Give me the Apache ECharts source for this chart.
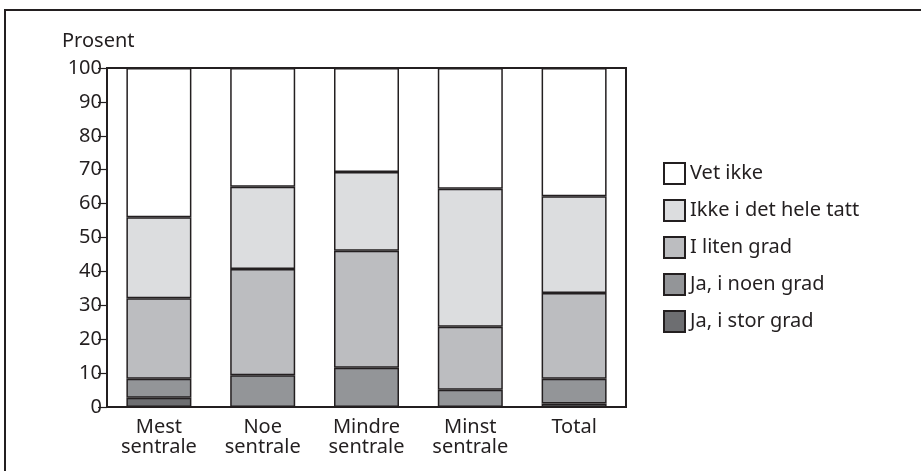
<!DOCTYPE html>
<html>
<head>
<meta charset="utf-8">
<script src="https://cdn.jsdelivr.net/npm/echarts@6/dist/echarts.min.js"></script>
<style>html,body{margin:0;padding:0;background:#fff}#c{width:921px;height:471px}</style>
</head>
<body>
<div id="c"></div>
<script>
const categories = ['Mest\nsentrale', 'Noe\nsentrale', 'Mindre\nsentrale', 'Minst\nsentrale', 'Total'];
const jaStorGrad = [2.7, 0, 0, 0, 1.0];
const jaNoenGrad = [5.6, 9.4, 11.6, 5.1, 7.3];
const iLitenGrad = [23.8, 31.3, 34.5, 18.6, 25.3];
const ikkeIDetHeleTatt = [23.9, 24.3, 23.2, 40.7, 28.6];
const vetIkke = [44.0, 35.0, 30.7, 35.6, 37.8];
const yTicks = [0, 10, 20, 30, 40, 50, 60, 70, 80, 90, 100];

const dark = '#231f20';
const font = 'Noto Sans';
const seriesDefs = [
  {name: 'Ja, i stor grad', data: jaStorGrad, color: '#6d6e71'},
  {name: 'Ja, i noen grad', data: jaNoenGrad, color: '#939598'},
  {name: 'I liten grad', data: iLitenGrad, color: '#bcbdc0'},
  {name: 'Ikke i det hele tatt', data: ikkeIDetHeleTatt, color: '#dcdddf'},
  {name: 'Vet ikke', data: vetIkke, color: '#ffffff'}
];

const chart = echarts.init(document.getElementById('c'), null, {renderer: 'canvas'});
chart.setOption({
  animation: false,
  backgroundColor: '#fff',
  textStyle: {fontFamily: font},
  title: {text: 'Prosent', left: 62, top: 31, padding: 0, textStyle: {fontFamily: font, fontSize: 20, fontWeight: 'normal', color: dark}},
  grid: {left: 107, right: 295, top: 68, bottom: 64, show: true, borderColor: dark, borderWidth: 2, backgroundColor: 'transparent'},
  legend: {
    orient: 'vertical', left: 663, top: 162, padding: 0,
    itemWidth: 21, itemHeight: 21, itemGap: 14,
    icon: 'rect',
    data: seriesDefs.map(s => s.name).reverse(),
    textStyle: {fontFamily: font, fontSize: 20, color: dark}
  },
  xAxis: {
    type: 'category', data: categories,
    axisLine: {lineStyle: {color: dark, width: 2}},
    axisTick: {show: false},
    axisLabel: {color: dark, fontFamily: font, fontSize: 20, lineHeight: 20, margin: 10}
  },
  yAxis: {
    type: 'value', min: 0, max: 100, interval: 10,
    axisLine: {show: true, lineStyle: {color: dark, width: 2}},
    axisTick: {show: true, length: 9, lineStyle: {color: dark, width: 1.2}},
    splitLine: {show: false},
    axisLabel: {color: dark, fontFamily: font, fontSize: 20, margin: 5,
      formatter: v => yTicks.includes(v) ? String(v) : ''}
  },
  series: seriesDefs.map(s => ({
    name: s.name, type: 'bar', stack: 'total', data: s.data, barWidth: 65,
    itemStyle: {color: s.color, borderColor: dark, borderWidth: 1.5}
  })),
  graphic: [{
    type: 'rect', silent: true, z: 100,
    shape: {x: 5, y: 10, width: 940, height: 490},
    style: {fill: 'none', stroke: dark, lineWidth: 2}
  }]
});
</script>
</body>
</html>
